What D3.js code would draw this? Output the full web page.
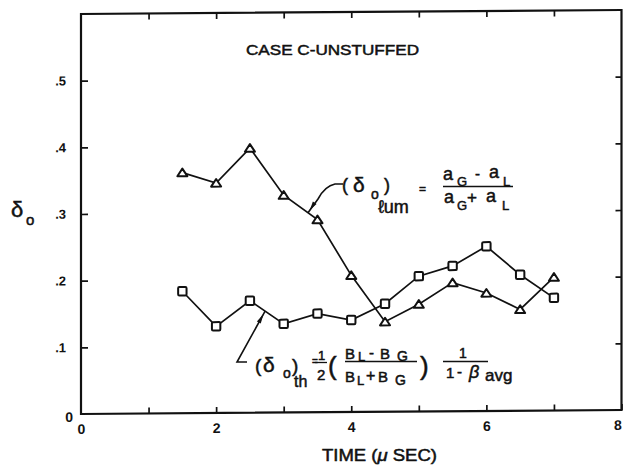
<!DOCTYPE html>
<html>
<head>
<meta charset="utf-8">
<script src="https://cdn.jsdelivr.net/npm/d3@7"></script>
<style>
  body { margin: 0; background: #fff; }
  svg text { font-family: "Liberation Sans", "DejaVu Sans", Arial, sans-serif; fill: #111; }
  svg text.lettering { stroke: #111; stroke-width: 0.5px; }
</style>
</head>
<body>
<svg id="chart" width="623" height="466"></svg>
<script>
// Time in microseconds and the two delta_o estimates
const times     = [1.5, 2, 2.5, 3, 3.5, 4, 4.5, 5, 5.5, 6, 6.5, 7];
const deltaLum  = [0.361, 0.345, 0.397, 0.326, 0.289, 0.205, 0.135, 0.161, 0.193, 0.177, 0.152, 0.200];
const deltaTh   = [0.183, 0.130, 0.168, 0.133, 0.148, 0.138, 0.162, 0.203, 0.218, 0.247, 0.204, 0.169];

const xTicks      = [0, 1, 2, 3, 4, 5, 6, 7, 8];
const xTickLabels = ["0", "", "2", "", "4", "", "6", "", "8"];
const yTicks      = [0, 0.1, 0.2, 0.3, 0.4, 0.5, 0.6];
const yTickLabels = ["0", ".1", ".2", ".3", ".4", ".5", ""];

const svg = d3.select("#chart");
const ink = "#111";

const x = d3.scaleLinear().domain([0, 8]).range([81, 621.5]);
const y = d3.scaleLinear().domain([0, 0.6]).range([414, 14]);

// the sheet sits very slightly askew: right side rides a few px higher
const k = 0.0074;
const skewY = (px, py) => py - k * (px - x(0));
const plot = svg.append("g")
  .attr("transform", `matrix(1,${-k},0,1,0,${k * x(0)})`);

// frame
plot.append("rect")
  .attr("x", x(0)).attr("y", y(0.6))
  .attr("width", x(8) - x(0)).attr("height", y(0) - y(0.6))
  .attr("fill", "none").attr("stroke", ink).attr("stroke-width", 2.2);

function styleAxis(g) {
  g.select(".domain").remove();
  g.selectAll(".tick line").attr("stroke", ink).attr("stroke-width", 1.7);
  g.selectAll(".tick text").attr("fill", ink).attr("font-weight", "bold");
}

// bottom axis with inward ticks
plot.append("g")
  .attr("transform", `translate(0,${y(0)})`)
  .call(d3.axisBottom(x).tickValues(xTicks).tickSize(-6).tickPadding(10)
        .tickFormat((d, i) => xTickLabels[i]))
  .call(styleAxis)
  .call(g => g.selectAll(".tick text").attr("font-size", 14))
  .call(g => g.selectAll(".tick").filter(d => d === 8).select("text").attr("dx", -4));

// top axis, ticks only
plot.append("g")
  .attr("transform", `translate(0,${y(0.6)})`)
  .call(d3.axisTop(x).tickValues(xTicks.slice(1, -1)).tickSize(-6).tickFormat(""))
  .call(styleAxis);

// left axis
plot.append("g")
  .attr("transform", `translate(${x(0)},0)`)
  .call(d3.axisLeft(y).tickValues(yTicks.slice(0, -1)).tickSize(-7).tickPadding(15)
        .tickFormat((d, i) => yTickLabels[i]))
  .call(styleAxis)
  .call(g => g.selectAll(".tick text").attr("font-size", 13))
  .call(g => g.selectAll(".tick").filter(d => d === 0).select("text")
        .attr("x", -8).attr("y", 3).attr("font-size", 14));
plot.selectAll(".tick").filter(d => d === 0).select("line").attr("stroke", "none");

// right axis, ticks only
plot.append("g")
  .attr("transform", `translate(${x(8)},0)`)
  .call(d3.axisRight(y).tickValues(yTicks.slice(1, -1)).tickSize(-6).tickFormat(""))
  .call(styleAxis);

// series lines
const line = d3.line().x(d => x(d[0])).y(d => y(d[1]));
const lumPts = times.map((t, i) => [t, deltaLum[i]]);
const thPts  = times.map((t, i) => [t, deltaTh[i]]);

[lumPts, thPts].forEach(pts => {
  plot.append("path").datum(pts).attr("d", line)
    .attr("fill", "none").attr("stroke", ink).attr("stroke-width", 1.7);
});

// open triangles for the luminosity estimate
plot.selectAll(".tri").data(lumPts).join("path")
  .attr("class", "tri")
  .attr("transform", d => `translate(${x(d[0])},${y(d[1])})`)
  .attr("d", "M-5,3.6L5,3.6L0,-4Z")
  .attr("fill", "#fff").attr("stroke", ink).attr("stroke-width", 2)
  .attr("stroke-linejoin", "round");

// open squares for the thermal estimate
plot.selectAll(".sq").data(thPts).join("rect")
  .attr("class", "sq")
  .attr("x", d => x(d[0]) - 4.2).attr("y", d => y(d[1]) - 4.2)
  .attr("width", 8.4).attr("height", 8.4).attr("rx", 1.2)
  .attr("fill", "#fff").attr("stroke", ink).attr("stroke-width", 2);

// ---- text ----
function put(str, px, py, size, opts = {}) {
  const t = svg.append("text").attr("class", "lettering")
    .attr("x", px).attr("y", py).attr("font-size", size).text(str);
  if (opts.italic) t.attr("font-style", "italic");
  if (opts.len) t.attr("textLength", opts.len).attr("lengthAdjust", "spacingAndGlyphs");
  return t;
}

put("CASE C-UNSTUFFED", 246, 55, 15, { len: 173 });

const xl = svg.append("text").attr("class", "lettering")
  .attr("x", 322).attr("y", 461).attr("font-size", 16)
  .attr("textLength", 115).attr("lengthAdjust", "spacingAndGlyphs");
xl.append("tspan").text("TIME (");
xl.append("tspan").attr("font-style", "italic").text("μ");
xl.append("tspan").text(" SEC)");

// y-axis title
put("δ", 11, 217, 22);
put("o", 26, 225, 15);

// lum annotation
put("(", 342, 191, 18);
put("δ", 353, 192, 21);
put("o", 371, 199, 14);
put(")", 384, 191, 18);
put("ℓum", 378, 213, 18);
put("=", 419, 193, 12);
put("a", 443, 180, 18); put("G", 457, 186, 13);
put("-", 475, 179, 15);
put("a", 489, 178, 18); put("L", 503, 186, 13);
svg.append("line").attr("x1", 443).attr("x2", 513).attr("y1", 186.5).attr("y2", 186.5)
  .attr("stroke", ink).attr("stroke-width", 1.6);
put("a", 444, 203, 18); put("G", 457, 210, 13);
put("+", 467, 203, 17);
put("a", 486, 202, 18); put("L", 502, 210, 13);

// thermal annotation
put("(", 255, 372, 19);
put("δ", 263, 372, 21);
put("o", 283, 378, 14);
put(")", 292, 372, 19);
put("th", 294, 387, 16);
put("=", 312, 365, 10);
put("1", 318, 360, 13);
svg.append("line").attr("x1", 315).attr("x2", 327).attr("y1", 362.5).attr("y2", 362.5)
  .attr("stroke", ink).attr("stroke-width", 1.3);
put("2", 317, 380, 15);
put("(", 328, 375, 26);
put("B", 345, 359, 15); put("L", 358, 361, 13);
put("-", 369, 358, 15);
put("B", 380, 359, 15); put("G", 397, 361, 14);
svg.append("line").attr("x1", 345).attr("x2", 417).attr("y1", 361.5).attr("y2", 361.5)
  .attr("stroke", ink).attr("stroke-width", 1.6);
put("B", 345, 382, 15); put("L", 357, 385, 13);
put("+", 366, 381, 16);
put("B", 378, 382, 15); put("G", 395, 385, 14);
put(")", 420, 375, 26);
put("1", 459, 358, 14);
svg.append("line").attr("x1", 443).attr("x2", 488).attr("y1", 361.5).attr("y2", 361.5)
  .attr("stroke", ink).attr("stroke-width", 1.6);
put("1", 446, 378, 15);
put("-", 457, 377, 15);
put("β", 469, 378, 18, { italic: true });
put("avg", 485, 381, 17);

// leader arrows pointing at the curves
function along(pts, i, t) {
  const a = pts[i], b = pts[i + 1];
  const px = x(a[0]) + t * (x(b[0]) - x(a[0]));
  const py = y(a[1]) + t * (y(b[1]) - y(a[1]));
  return [px, skewY(px, py)];
}
function arrowHead(tip, from, back0, back1, half) {
  const dx = tip[0] - from[0], dy = tip[1] - from[1];
  const L = Math.hypot(dx, dy), ux = dx / L, uy = dy / L;
  const p0 = [tip[0] - ux * back0, tip[1] - uy * back0];
  const b = [tip[0] - ux * back1, tip[1] - uy * back1];
  const n = [-uy * half, ux * half];
  svg.append("path")
    .attr("d", `M${p0}L${b[0] + n[0]},${b[1] + n[1]}L${b[0] - n[0]},${b[1] - n[1]}Z`)
    .attr("fill", ink);
}

const tip1 = along(lumPts, 3, 0.72);
svg.append("path")
  .attr("d", `M343,184L335,184Q325,186 318,199L${tip1}`)
  .attr("fill", "none").attr("stroke", ink).attr("stroke-width", 1.6);
arrowHead(tip1, [322, 192], 3, 12, 2.2);

const tip2 = along(thPts, 2, 0.45);
svg.append("path")
  .attr("d", `M247,362L237,362L${tip2}`)
  .attr("fill", "none").attr("stroke", ink).attr("stroke-width", 1.6);
arrowHead(tip2, [237, 362], 3, 13, 2.2);
</script>
</body>
</html>
